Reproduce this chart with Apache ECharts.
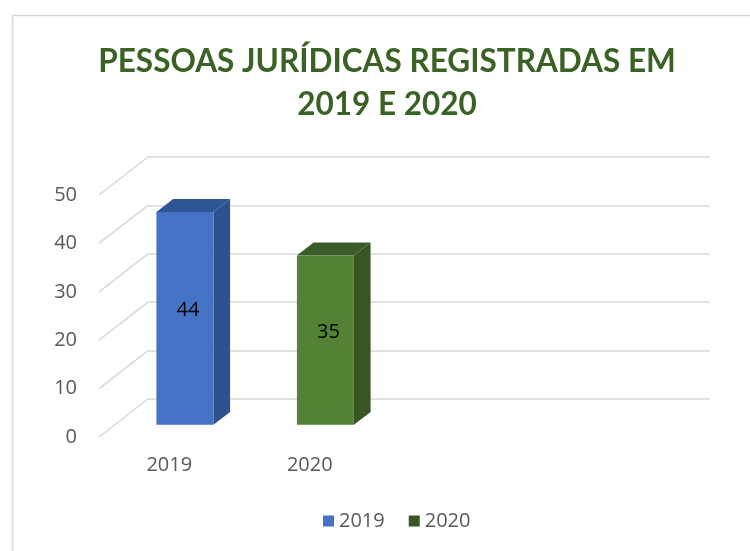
<!DOCTYPE html>
<html>
<head>
<meta charset="utf-8">
<script src="https://cdn.jsdelivr.net/npm/echarts@6/dist/echarts.min.js"></script>
<style>
    html, body {margin: 0; padding: 0; background: #fff;}
    #chart {width: 750px; height: 551px;}
</style>
</head>
<body>
<div id="chart"></div>
<script>
// chart data
var categories = ['2019', '2020'];
var values = [44, 35];
var series_names = ['2019', '2020'];
var y_ticks = [0, 10, 20, 30, 40, 50];

// two empty slots to the right, as in the original
var axis_cats = categories.concat(['', '']);

// colours per bar: front, side, top, legend
var bar_colors = [
    {front: '#4472C4', side: '#2F5190', top: '#2F5597', legend: '#4472C4'},
    {front: '#548235', side: '#375623', top: '#3A5C26', legend: '#375623'}
];

// perspective: back wall -> front edge of floor
var DX = -49, DY = 38;
var BAR_FRONT = 0.68, BAR_BACK = 0.34;
var BAR_W = 57;

function renderBar(params, api) {
    var idx = params.seriesIndex;
    var c = bar_colors[idx];
    var top = api.coord([api.value(0), api.value(1)]);
    var base = api.coord([api.value(0), 0]);
    var fx = DX * BAR_FRONT, fy = DY * BAR_FRONT;
    var bx = DX * BAR_BACK, by = DY * BAR_BACK;
    var x0 = top[0] + fx - BAR_W / 2;
    var x1 = x0 + BAR_W;
    var yt = top[1] + fy;
    var yb = base[1] + fy;
    var sx = bx - fx, sy = by - fy;
    return {
        type: 'group',
        children: [
            {type: 'polygon', shape: {points: [[x1, yt], [x1 + sx, yt + sy], [x1 + sx, yb + sy], [x1, yb]]},
                style: {fill: c.side}},
            {type: 'polygon', shape: {points: [[x0, yt], [x0 + sx, yt + sy], [x1 + sx, yt + sy], [x1, yt]]},
                style: {fill: c.top}},
            {type: 'rect', shape: {x: x0, y: yt, width: BAR_W, height: yb - yt},
                style: {fill: c.front}},
            {type: 'text', x: (x0 + x1) / 2 + 3, y: (yt + yb) / 2 - 8,
                style: {text: String(api.value(1)), fill: '#000', font: '20px "Open Sans"',
                    align: 'center', verticalAlign: 'middle'}}
        ]
    };
}

function renderDiagonal(params, api) {
    var y = api.coord([0, api.value(0)])[1];
    var x = params.coordSys.x;
    return {
        type: 'line',
        shape: {x1: x, y1: y, x2: x + DX, y2: y + DY},
        style: {stroke: '#d9d9d9', lineWidth: 1.5}
    };
}

var myChart = echarts.init(document.getElementById('chart'));

var series = [];
for (var i = 0; i < categories.length; i++) {
    series.push({
        name: series_names[i],
        type: 'custom',
        xAxisIndex: 0,
        yAxisIndex: 0,
        itemStyle: {color: bar_colors[i].legend},
        renderItem: renderBar,
        data: [[i, values[i]]],
        z: 3
    });
}
series.push({
    type: 'custom',
    xAxisIndex: 0,
    yAxisIndex: 0,
    renderItem: renderDiagonal,
    data: y_ticks.map(function (v) { return [v]; }),
    encode: {y: 0},
    silent: true,
    z: 1
});

var option = {
    animation: false,
    backgroundColor: '#fff',
    graphic: [{
        type: 'rect', left: 10, top: 13, z: -1,
        shape: {width: 800, height: 600},
        style: {fill: 'none', stroke: '#d9d9d9', lineWidth: 1.5}
    }],
    title: {
        text: 'PESSOAS JURÍDICAS REGISTRADAS EM\n2019 E 2020',
        left: 382,
        top: 35,
        textAlign: 'center',
        textStyle: {color: '#3A6224', fontFamily: 'Lato', fontWeight: 'bold', fontSize: 31.5, lineHeight: 43}
    },
    legend: {
        data: series_names,
        bottom: 15,
        left: 318,
        itemWidth: 11,
        itemHeight: 11,
        itemGap: 24,
        icon: 'rect',
        textStyle: {color: '#595959', fontSize: 20, fontFamily: 'Open Sans'}
    },
    grid: [
        {left: 148, right: 40, top: 157, bottom: 152},
        {left: 99, right: 89, top: 195, bottom: 114}
    ],
    xAxis: [
        {type: 'category', gridIndex: 0, data: axis_cats, axisLine: {show: false}, axisTick: {show: false}, axisLabel: {show: false}},
        {type: 'category', gridIndex: 1, data: axis_cats, axisLine: {show: false}, axisTick: {show: false},
            axisLabel: {color: '#595959', fontSize: 20, fontFamily: 'Open Sans', margin: 18}}
    ],
    yAxis: [
        {type: 'value', gridIndex: 0, min: 0, max: 50, interval: 10, axisLabel: {show: false},
            axisLine: {show: false}, axisTick: {show: false},
            splitLine: {lineStyle: {color: '#d9d9d9', width: 1.5}}},
        {type: 'value', gridIndex: 1, min: 0, max: 50, interval: 10,
            axisLine: {show: false}, axisTick: {show: false}, splitLine: {show: false},
            axisLabel: {color: '#595959', fontSize: 20, fontFamily: 'Open Sans', margin: 22}}
    ],
    series: series
};

myChart.setOption(option);
</script>
</body>
</html>
